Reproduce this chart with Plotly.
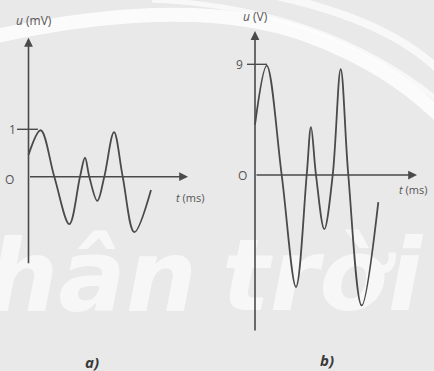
"""Two oscilloscope-style voltage traces: a) u in mV, b) u in V, against t in ms."""

import plotly.graph_objects as go

# panel a: digitised extrema and zero crossings of the trace
t_a = [0.0, 1.22, 2.58, 4.08, 5.15, 5.65, 6.08, 6.88, 7.58, 8.55, 9.42, 10.58, 12.25]
u_a = [0.46, 0.98, 0.0, -1.0, 0.0, 0.40, 0.0, -0.51, 0.0, 0.94, 0.0, -1.17, -0.28]

# panel b: same signal amplified
t_b = [0.0, 1.17, 2.67, 4.1, 5.17, 5.6, 6.1, 6.93, 7.77, 8.57, 9.33, 10.67, 12.33]
u_b = [4.1, 8.9, 0.0, -9.1, 0.0, 3.9, 0.0, -4.4, 0.0, 8.6, 0.0, -10.6, -2.2]

tick_a = 1
tick_b = 9

# publisher watermark words, one per panel
mark_a = "hân"
mark_b = "trời"

INK = "#4a4a4a"
TXT = "#555555"
BG = "#e9e9e9"
FONT = "Open Sans"

fig = go.Figure()

# watermark goes in first so the traces sit on top of it
mark_font = dict(family="DejaVu Sans", size=100, color="rgba(255,255,255,0.65)",
                 weight="bold", style="italic")
fig.add_trace(go.Scatter(
    x=[6.35], y=[-2.3], mode="text", text=[mark_a], textfont=mark_font,
    cliponaxis=False, xaxis="x", yaxis="y", hoverinfo="skip",
))
fig.add_trace(go.Scatter(
    x=[6.7], y=[-8.9], mode="text", text=[mark_b], textfont=mark_font,
    cliponaxis=False, xaxis="x2", yaxis="y2", hoverinfo="skip",
))

fig.add_trace(go.Scatter(
    x=t_a, y=u_a, mode="lines", line=dict(color=INK, width=1.8, shape="spline", smoothing=1.0),
    xaxis="x", yaxis="y", hoverinfo="skip",
))
fig.add_trace(go.Scatter(
    x=t_b, y=u_b, mode="lines", line=dict(color=INK, width=1.8, shape="spline", smoothing=1.0),
    xaxis="x2", yaxis="y2", hoverinfo="skip",
))

ann = []


def axis_arrow(xr, yr, x0, y0, x1, y1):
    ann.append(dict(
        x=x1, y=y1, ax=x0, ay=y0, xref=xr, yref=yr, axref=xr, ayref=yr,
        text="", showarrow=True, arrowhead=2, arrowsize=1.1, arrowwidth=1.6, arrowcolor=INK,
    ))


def label(xr, yr, x, y, text, size=12, xanchor="center", bold=False):
    ann.append(dict(
        x=x, y=y, xref=xr, yref=yr, text=text, showarrow=False, xanchor=xanchor,
        font=dict(family=FONT, size=size, color="#3a3a3a" if bold else TXT,
                  weight="bold" if bold else "normal"),
    ))


# panel a axes and labels
axis_arrow("x", "y", 0, -1.86, 0, 2.93)
axis_arrow("x", "y", 0, 0, 15.95, 0)
label("x", "y", 0.55, 3.29, "<i>u</i> (mV)")
label("x", "y", -1.65, tick_a, str(tick_a))
label("x", "y", -1.95, -0.05, "O")
label("x", "y", 16.15, -0.43, "<i>t</i> (ms)", size=11)
label("x", "y", 6.35, -3.9, "<i>a)</i>", size=15, bold=True)

# panel b axes and labels
axis_arrow("x2", "y2", 0, -12.76, 0, 11.7)
axis_arrow("x2", "y2", 0, 0, 16.2, 0)
label("x2", "y2", 0.0, 12.85, "<i>u</i> (V)")
label("x2", "y2", -1.6, tick_b, str(tick_b))
label("x2", "y2", -1.25, -0.05, "O")
label("x2", "y2", 14.2, -1.2, "<i>t</i> (ms)", size=11, xanchor="left")
label("x2", "y2", 7.2, -15.0, "<i>b)</i>", size=15, bold=True)

shapes = [
    dict(type="line", xref="x", yref="y", x0=-1.15, x1=0.95, y0=tick_a, y1=tick_a,
         line=dict(color=INK, width=1.4)),
    dict(type="line", xref="x2", yref="y2", x0=-0.8, x1=1.2, y0=tick_b, y1=tick_b,
         line=dict(color=INK, width=1.4)),
    # white arcs of the watermark
    dict(type="path", xref="paper", yref="paper", layer="below",
         path="M -0.02 0.9 Q 0.45 1.02 0.72 0.9 Q 0.9 0.82 1.02 0.68",
         line=dict(color="white", width=14), opacity=0.85),
    dict(type="path", xref="paper", yref="paper", layer="below",
         path="M 0.35 1.0 Q 0.75 0.98 1.02 0.72",
         line=dict(color="white", width=5), opacity=0.7),
    dict(type="path", xref="paper", yref="paper", layer="below",
         path="M 0.6 1.02 Q 0.9 0.95 1.02 0.8",
         line=dict(color="white", width=8), opacity=0.7),
]

hidden = dict(visible=False, fixedrange=True)
fig.update_layout(
    width=434, height=371,
    margin=dict(l=0, r=0, t=0, b=0),
    paper_bgcolor=BG, plot_bgcolor="rgba(0,0,0,0)",
    showlegend=False,
    xaxis=dict(domain=[0, 0.5], range=[-2.85, 18.85], **hidden),
    yaxis=dict(domain=[0, 1], range=[-4.099, 3.728], **hidden),
    xaxis2=dict(domain=[0.5, 1], range=[-3.8, 17.9], anchor="y2", **hidden),
    yaxis2=dict(domain=[0, 1], range=[-15.93, 14.23], anchor="x2", **hidden),
    annotations=ann,
    shapes=shapes,
)

fig.write_html(
    "out.html",
    config={"displayModeBar": False},
    post_script="document.body.style.margin='0';document.body.style.overflow='hidden';",
)
